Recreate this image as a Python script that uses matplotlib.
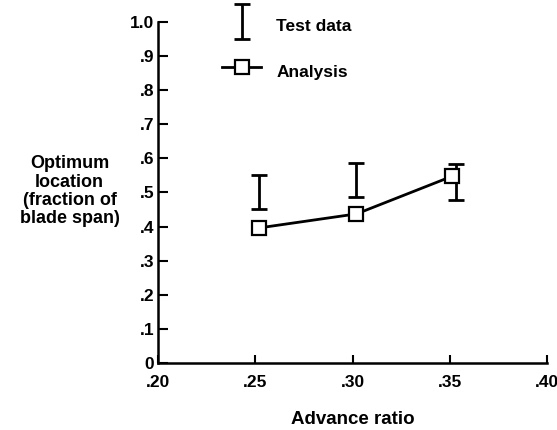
import matplotlib
matplotlib.use("Agg")
import matplotlib.pyplot as plt
from matplotlib.legend_handler import HandlerErrorbar

plt.rcParams['font.family'] = ['Liberation Sans', 'DejaVu Sans']
plt.rcParams['font.weight'] = 'bold'

# Test data (error bar ranges)
test_x = [0.252, 0.302, 0.353]
test_low = [0.452, 0.487, 0.478]
test_high = [0.551, 0.586, 0.584]

# Analysis curve
ana_x = [0.252, 0.302, 0.351]
ana_y = [0.396, 0.437, 0.547]

xticks = [0.20, 0.25, 0.30, 0.35, 0.40]
xticklabels = ['.20', '.25', '.30', '.35', '.40']
yticks = [0, 0.1, 0.2, 0.3, 0.4, 0.5, 0.6, 0.7, 0.8, 0.9, 1.0]
yticklabels = ['0', '.1', '.2', '.3', '.4', '.5', '.6', '.7', '.8', '.9', '1.0']

fig = plt.figure(figsize=(5.57, 4.30), dpi=100)
ax = fig.add_axes([0.284, 0.156, 0.698, 0.793])

# error bars drawn from midpoint and half-range
mid = [(lo + hi) / 2 for lo, hi in zip(test_low, test_high)]
half = [(hi - lo) / 2 for lo, hi in zip(test_low, test_high)]
eb = ax.errorbar(test_x, mid, yerr=half, fmt='none', ecolor='black',
                 elinewidth=2.0, capsize=6, capthick=2.0, label='Test data')

ln, = ax.plot(ana_x, ana_y, color='black', lw=2.0, marker='s', ms=9.5,
              mfc='white', mec='black', mew=1.6, label='Analysis')

ax.set_xlim(0.20, 0.40)
ax.set_ylim(0, 1.0)
ax.set_xticks(xticks)
ax.set_xticklabels(xticklabels)
ax.set_yticks(yticks)
ax.set_yticklabels(yticklabels)
ax.tick_params(direction='in', width=1.5, labelsize=12.5)
ax.tick_params(axis='y', length=7, pad=3)
ax.tick_params(axis='x', length=6, pad=9)
for lab in ax.get_xticklabels() + ax.get_yticklabels():
    lab.set_fontweight('bold')

for s in ['top', 'right']:
    ax.spines[s].set_visible(False)
for s in ['left', 'bottom']:
    ax.spines[s].set_linewidth(1.8)

ax.set_xlabel('Advance ratio', fontsize=13.5, fontweight='bold', labelpad=15)
fig.text(0.125, 0.555, 'Optimum\nlocation\n(fraction of\nblade span)',
         ha='center', va='center', fontsize=13, fontweight='bold',
         linespacing=1.1)

leg = ax.legend(handles=[eb, ln], loc='upper left',
                bbox_to_anchor=(0.125, 1.075), frameon=False,
                fontsize=12.5, handlelength=2.2, handleheight=2.0,
                labelspacing=1.1, handletextpad=0.9,
                handler_map={eb: HandlerErrorbar(yerr_size=1.0)})
for t in leg.get_texts():
    t.set_fontweight('bold')

fig.savefig('out.png', dpi=100)
